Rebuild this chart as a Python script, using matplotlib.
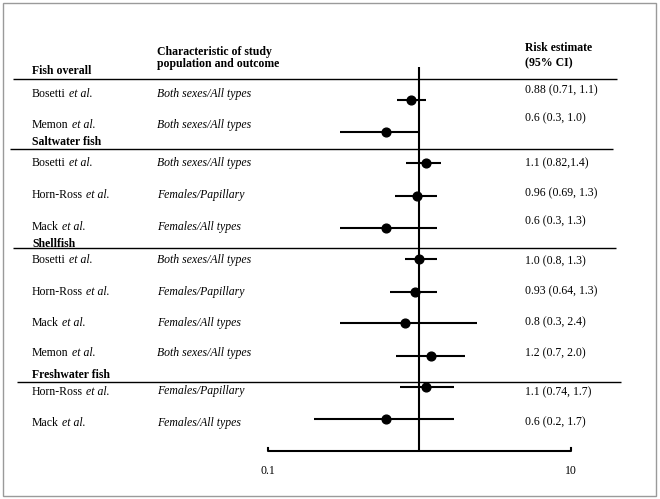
import matplotlib
matplotlib.use("Agg")
import matplotlib.pyplot as plt
from matplotlib.patches import Rectangle

# ---------------- data ----------------
groups = ["Fish overall", "Saltwater fish", "Shellfish", "Freshwater fish"]
studies = ["Bosetti", "Memon", "Bosetti", "Horn-Ross", "Mack",
           "Bosetti", "Horn-Ross", "Mack", "Memon", "Horn-Ross", "Mack"]
characteristics = ["Both sexes/All types", "Both sexes/All types",
                   "Both sexes/All types", "Females/Papillary", "Females/All types",
                   "Both sexes/All types", "Females/Papillary", "Females/All types",
                   "Both sexes/All types", "Females/Papillary", "Females/All types"]
estimates = [0.88, 0.6, 1.1, 0.96, 0.6, 1.0, 0.93, 0.8, 1.2, 1.1, 0.6]
lower = [0.71, 0.3, 0.82, 0.69, 0.3, 0.8, 0.64, 0.3, 0.7, 0.74, 0.2]
upper = [1.1, 1.0, 1.4, 1.3, 1.3, 1.3, 1.3, 2.4, 2.0, 1.7, 1.7]
estimate_labels = ["0.88 (0.71, 1.1)", "0.6 (0.3, 1.0)", "1.1 (0.82,1.4)",
                   "0.96 (0.69, 1.3)", "0.6 (0.3, 1.3)", "1.0 (0.8, 1.3)",
                   "0.93 (0.64, 1.3)", "0.8 (0.3, 2.4)", "1.2 (0.7, 2.0)",
                   "1.1 (0.74, 1.7)", "0.6 (0.2, 1.7)"]
tick_values = [0.1, 10]
tick_labels = ["0.1", "10"]
null_value = 1.0

# ---------------- layout (pixels from top) ----------------
W, H = 660, 499
name_y = [94, 125, 163, 195, 227, 260, 291.7, 323, 353, 392, 422.7]
char_y = [94, 125, 163, 195, 227, 260, 291.7, 323, 353, 391, 422.7]
dot_y = [100, 131.7, 163.3, 195.7, 227.7, 259.3, 291.7, 323, 355.7, 387.3, 419.3]
right_y = [90, 118, 163, 193, 221.7, 261.7, 291.7, 322.7, 353.3, 392.7, 422.7]
header_y = [71, 142, 243.5, 375]
sep_y = [79.3, 149, 247.5, 381.7]
sep_x0 = [13, 10, 12.7, 16.7]
sep_x1 = [617, 612.7, 616, 621]
x_name, x_char, x_right = 32, 157, 525
axis_y, tick_top, label_y = 450.7, 447.5, 471
vline_top = 67.3

plt.rcParams["font.family"] = ["Liberation Serif", "DejaVu Serif"]
FS = 8.5

fig = plt.figure(figsize=(W / 100, H / 100), dpi=100)
fig.patch.set_facecolor("white")

# overlay axes in pixel coordinates
ax = fig.add_axes([0, 0, 1, 1])
ax.set_xlim(0, W)
ax.set_ylim(H, 0)
ax.axis("off")

# forest axes, log scale
left_px, right_px = 268, 570.7
fx = fig.add_axes([left_px / W, 0, (right_px - left_px) / W, 1])
fx.set_xscale("log")
fx.set_xlim(tick_values[0], tick_values[-1])
fx.set_ylim(H, 0)
fx.axis("off")
fx.patch.set_alpha(0)

# border
ax.add_patch(Rectangle((3.3, 3.2), 652.2, 492.5, fill=False, ec="#9a9a9a", lw=1.0))

# headers
ax.text(x_char, 51.5, "Characteristic of study", fontsize=FS, fontweight="bold", va="center")
ax.text(x_char, 64, "population and outcome", fontsize=FS, fontweight="bold", va="center")
ax.text(x_right, 48.3, "Risk estimate", fontsize=FS, fontweight="bold", va="center")
ax.text(x_right, 63.3, "(95% CI)", fontsize=FS, fontweight="bold", va="center")

for g, gy in zip(groups, header_y):
    ax.text(x_name, gy, g, fontsize=FS, fontweight="bold", va="center")

for y, a, b in zip(sep_y, sep_x0, sep_x1):
    ax.plot([a, b], [y, y], color="black", lw=1.0, solid_capstyle="butt")

fig.canvas.draw()
renderer = fig.canvas.get_renderer()
inv = ax.transData.inverted()
for s, c, ny, cy in zip(studies, characteristics, name_y, char_y):
    t = ax.text(x_name, ny, s, fontsize=FS, va="center")
    bb = t.get_window_extent(renderer=renderer)
    xe = inv.transform((bb.x1, 0))[0]
    ax.text(xe, ny, " et al.", fontsize=FS, va="center", style="italic")
    ax.text(x_char, cy, c, fontsize=FS, va="center", style="italic")

for lab, ry in zip(estimate_labels, right_y):
    ax.text(x_right, ry, lab, fontsize=FS, va="center")

# forest marks
fx.plot([null_value, null_value], [vline_top, axis_y], color="black", lw=1.5,
        solid_capstyle="butt", clip_on=False)
for e, lo, hi, y in zip(estimates, lower, upper, dot_y):
    fx.plot([lo, hi], [y, y], color="black", lw=1.5, solid_capstyle="butt", clip_on=False)
    fx.plot([e], [y], "o", color="black", ms=6.3, clip_on=False)

fx.plot([tick_values[0], tick_values[0], tick_values[-1], tick_values[-1]],
        [tick_top, axis_y, axis_y, tick_top], color="black", lw=1.5, clip_on=False)
for tv, tl in zip(tick_values, tick_labels):
    fx.text(tv, label_y, tl, fontsize=FS, ha="center", va="center")

fig.savefig("out.png", dpi=100, facecolor="white")
